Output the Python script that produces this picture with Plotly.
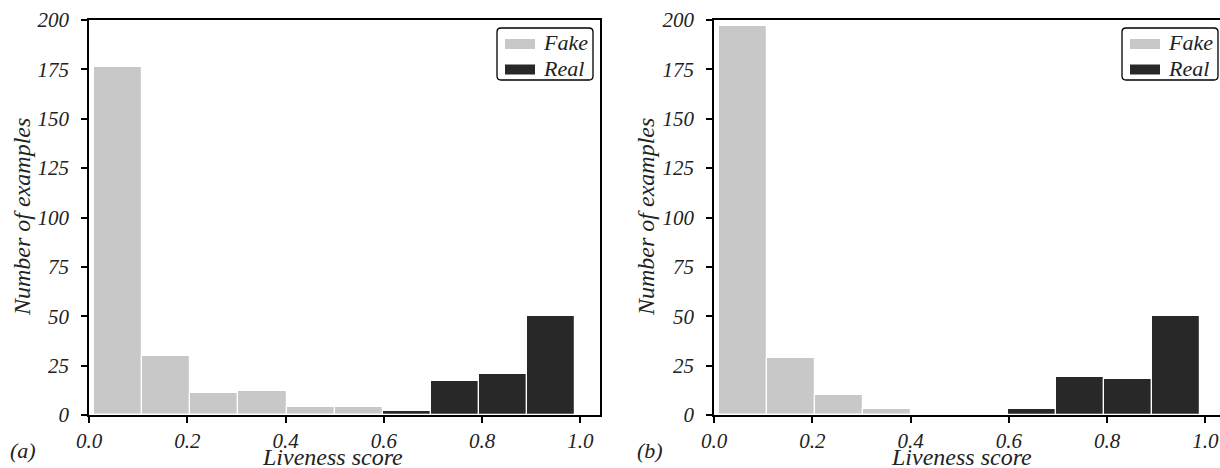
import numpy as np
import plotly.graph_objects as go

# ---- data ----
bin_edges = np.linspace(0.01, 0.99, 11)
fake_a = [176, 30, 11, 12, 4, 4, 0, 0, 0, 0]
real_a = [0, 0, 0, 0, 0, 0, 2, 17, 21, 50]
fake_b = [197, 29, 10, 3, 0, 0, 0, 0, 0, 0]
real_b = [0, 0, 0, 0, 0, 0, 3, 19, 18, 50]
x_ticks = [0.0, 0.2, 0.4, 0.6, 0.8, 1.0]
y_ticks = [0, 25, 50, 75, 100, 125, 150, 175, 200]
series_names = ["Fake", "Real"]
panel_labels = ["(a)", "(b)"]

centers = (bin_edges[:-1] + bin_edges[1:]) / 2
widths = np.diff(bin_edges)

FAKE = "#c8c8c8"
REAL = "#282828"
FONT = "Liberation Serif, Times New Roman, serif"
TXT = "#222222"

W, H = 1220, 468
L, R, T, B = 89, 0, 20, 53
pw = W - L - R
ph = H - T - B


def px_x(p):
    return (p - L) / pw


def px_y(p):
    return 1 - (p - T) / ph


fig = go.Figure()


def add_panel(fake, real, xa, ya):
    fig.add_trace(go.Bar(x=centers, y=fake, width=widths,
                         marker=dict(color=FAKE, line=dict(color="white", width=1.2)),
                         name=series_names[0], showlegend=False, xaxis=xa, yaxis=ya))
    fig.add_trace(go.Bar(x=centers, y=real, width=widths,
                         marker=dict(color=REAL, line=dict(color="white", width=1.2)),
                         name=series_names[1], showlegend=False, xaxis=xa, yaxis=ya))


add_panel(fake_a, real_a, "x", "y")
add_panel(fake_b, real_b, "x2", "y2")

tickfont = dict(family=FONT, size=21, color=TXT, style="italic")
titlefont = dict(family=FONT, size=24, color=TXT, style="italic")

xcommon = dict(tickvals=x_ticks, tickformat=".1f", ticks="outside", ticklen=6, tickwidth=1.5,
               tickcolor="black", showline=True, linecolor="black", linewidth=1.8, showgrid=False,
               zeroline=False, tickfont=tickfont, automargin=False, ticklabelstandoff=0)
ycommon = dict(range=[0, 200], tickvals=y_ticks, ticks="outside", ticklen=6, tickwidth=1.5,
               tickcolor="black", showline=True, linecolor="black", linewidth=1.8, showgrid=False,
               zeroline=False, tickfont=tickfont, automargin=False, ticklabelstandoff=8)

shapes = []
annotations = []


def rounded_box(x0p, y0p, x1p, y1p, r=4):
    x0, x1 = px_x(x0p), px_x(x1p)
    yt, yb = px_y(y0p), px_y(y1p)
    rx, ry = r / pw, r / ph
    path = (f"M {x0+rx},{yt} L {x1-rx},{yt} Q {x1},{yt} {x1},{yt-ry} "
            f"L {x1},{yb+ry} Q {x1},{yb} {x1-rx},{yb} L {x0+rx},{yb} Q {x0},{yb} {x0},{yb+ry} "
            f"L {x0},{yt-ry} Q {x0},{yt} {x0+rx},{yt} Z")
    return dict(type="path", path=path, xref="paper", yref="paper",
                line=dict(color="black", width=1.3), fillcolor="white", layer="above")


def add_legend(box_left, box_right):
    shapes.append(rounded_box(box_left, 28, box_right, 80))
    for i, (nm, col) in enumerate(zip(series_names, [FAKE, REAL])):
        yc = 44 + i * 25.5
        shapes.append(dict(type="rect", xref="paper", yref="paper",
                           x0=px_x(box_left + 8), x1=px_x(box_left + 38),
                           y0=px_y(yc - 5), y1=px_y(yc + 5),
                           fillcolor=col, line=dict(width=0), layer="above"))
        annotations.append(dict(text=nm, x=px_x(box_left + 44), y=px_y(yc - 1), xref="paper", yref="paper",
                                xanchor="left", yanchor="middle", showarrow=False,
                                font=dict(family=FONT, size=22, color=TXT, style="italic")))


add_legend(497, 593)
add_legend(1122, 1218)

# axis titles and panel labels
for cx, ycx, lab, lx in ((332, 22, panel_labels[0], 23), (961, 646, panel_labels[1], 650)):
    annotations.append(dict(text="Liveness score", x=px_x(cx), y=px_y(457), xref="paper", yref="paper",
                            showarrow=False, xanchor="center", yanchor="middle", font=titlefont))
    annotations.append(dict(text="Number of examples", x=px_x(ycx), y=px_y(217), xref="paper", yref="paper",
                            showarrow=False, xanchor="center", yanchor="middle", textangle=-90, font=titlefont))
    annotations.append(dict(text=lab, x=px_x(lx), y=px_y(450), xref="paper", yref="paper",
                            showarrow=False, xanchor="center", yanchor="middle",
                            font=dict(family=FONT, size=22, color=TXT, style="italic")))

fig.update_layout(
    template="none",
    width=W, height=H, margin=dict(l=L, r=R, t=T, b=B, autoexpand=False),
    paper_bgcolor="white", plot_bgcolor="white", bargap=0, barmode="overlay",
    showlegend=False,
    xaxis=dict(domain=[0, px_x(600)], anchor="y", mirror=True, range=[0, 1.04], **xcommon),
    yaxis=dict(domain=[0, 1], anchor="x", mirror=True, **ycommon),
    xaxis2=dict(domain=[px_x(714), 1], anchor="y2", mirror=True, range=[0, 1.03], **xcommon),
    yaxis2=dict(domain=[0, 1], anchor="x2", mirror=False, **ycommon),
    shapes=shapes,
    annotations=annotations,
)

fig.write_html(
    "out.html",
    config={"displayModeBar": False},
    post_script="document.documentElement.style.margin='0';document.body.style.margin='0';"
                "document.body.style.padding='0';document.body.style.overflow='hidden';",
)
